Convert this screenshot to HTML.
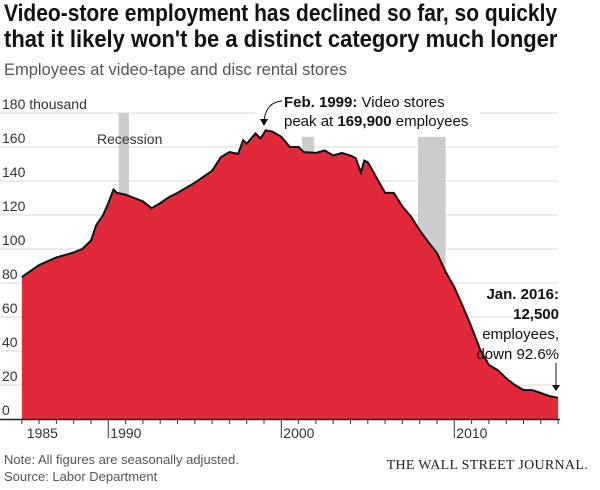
<!DOCTYPE html>
<html><head><meta charset="utf-8"><style>
body{margin:0;width:600px;height:490px;background:#fff;overflow:hidden;font-family:"Liberation Sans",sans-serif}
.t{position:absolute;left:4px;font-weight:bold;font-size:24px;line-height:28px;color:#111;white-space:nowrap;transform-origin:0 0}
</style></head><body>
<div class="t" id="t1" style="top:0px">Video-store employment has declined so far, so quickly</div>
<div class="t" id="t2" style="top:26px">that it likely won't be a distinct category much longer</div>
<div style="position:absolute;left:4px;top:61px;font-size:16.5px;color:#555;white-space:nowrap">Employees at video-tape and disc rental stores</div>
<svg id="c" width="600" height="490" style="position:absolute;left:0;top:0"></svg>
<div style="position:absolute;left:4px;top:451px;font-size:13px;line-height:17px;color:#555">Note: All figures are seasonally adjusted.<br>Source: Labor Department</div>
<div style="position:absolute;right:12px;top:458px;font-family:'Liberation Serif',serif;font-size:14px;color:#222;letter-spacing:0.3px">THE WALL STREET JOURNAL.</div>
<script>
[['t1',553],['t2',553]].forEach(([id,w])=>{const e=document.getElementById(id);e.style.transform='scaleX('+(w/e.offsetWidth)+')';});
const years=[1985,1986,1987,1988,1988.5,1989,1989.3,1989.7,1990,1990.3,1990.5,1991,1991.5,1992,1992.5,1993,1993.5,1994,1995,1996,1996.5,1997,1997.5,1997.8,1998,1998.5,1998.8,1999.1,1999.5,2000,2000.5,2001,2001.3,2002,2002.5,2003,2003.5,2004,2004.3,2004.6,2004.8,2005,2005.5,2006,2006.5,2007,2007.5,2008,2008.5,2009,2009.5,2010,2010.5,2011,2011.5,2012,2012.5,2013,2013.5,2014,2014.5,2015,2015.5,2016];
const employees=[83.5,90.6,95,98,100,105,114,120,127,135,133,132,130,128,124,127,130.5,133,139,146,154,157,156,164,162,168,165,169.9,169,166,160,160,157,156.5,158,155,156.5,155,153.5,145,152,151,142,133,133,125,119,111,104,97.6,86.5,77.6,66,54,40.6,31.8,28.8,24,20,17,17,15.3,13.5,12.5];
const yTicks=[0,20,40,60,80,100,120,140,160,180];
const xLabels=[1985,1990,2000,2010];
const recessions=[[1990.6,1991.2,180],[2001.2,2001.9,166],[2007.9,2009.5,166]];
const svg=document.getElementById('c'),NS='http://www.w3.org/2000/svg';
const x=v=>108.3+(v-1990)*17.3, y=v=>419-v*1.7;
function mk(t,a,p){const e=document.createElementNS(NS,t);for(const k in a)e.setAttribute(k,a[k]);(p||svg).appendChild(e);return e;}
yTicks.forEach(v=>{
 if(v>0){const g=mk('line',{x1:0,x2:558,y1:y(v),y2:y(v),stroke:'#d8d8d8','stroke-width':1});
 
 }
 const t=mk('text',{x:2,y:y(v)-4,'font-size':14,fill:'#333'});t.textContent=v==180?'180 thousand':v;
 
 
});
mk('rect',{x:255,y:104,width:225,height:14,fill:'#fff'});
recessions.forEach((r,i)=>{const e=mk('rect',{x:x(r[0]),y:y(r[2]),width:x(r[1])-x(r[0]),height:419-y(r[2]),fill:'#ccc'});
 
 });
let d='M'+x(years[0])+','+y(0);
years.forEach((yr,i)=>d+='L'+x(yr).toFixed(1)+','+y(employees[i]).toFixed(1));
const area=mk('path',{d:d+'L'+x(years[years.length-1])+','+y(0)+'Z',fill:'#e2293c'});


const line=mk('path',{d:'M'+years.map((yr,i)=>x(yr).toFixed(1)+','+y(employees[i]).toFixed(1)).join('L'),fill:'none',stroke:'#111','stroke-width':2});


mk('line',{x1:0,x2:560,y1:419.5,y2:419.5,stroke:'#222','stroke-width':1.5});
for(let yr=1985;yr<=2016;yr++){const maj=yr%10==0;mk('line',{x1:x(yr),x2:x(yr),y1:419,y2:maj?438:424,stroke:'#333','stroke-width':1});}
xLabels.forEach(v=>{const t=mk('text',{x:v==1985?x(v)+5:x(v)+2,y:438,'font-size':14,fill:'#333'});t.textContent=v;
 
 });
const rec=mk('text',{x:97,y:144,'font-size':14,fill:'#333'});rec.textContent='Recession';


const a1=mk('text',{x:284,y:107,'font-size':15,fill:'#111'});a1.innerHTML='<tspan font-weight="bold">Feb. 1999:</tspan> Video stores';


const a2=mk('text',{x:284,y:126,'font-size':15,fill:'#111'});a2.innerHTML='peak at <tspan font-weight="bold">169,900</tspan> employees';
mk('path',{d:'M282,101 Q266,102 264,121',fill:'none',stroke:'#111','stroke-width':1});
mk('path',{d:'M260,119 L264,126 L268,119Z',fill:'#111'});
[['Jan. 2016:',299,true],['12,500',319,true],['employees,',339,false],['down 92.6%',359,false]].forEach((r,i)=>{
 const t=mk('text',{x:559,y:r[1],'font-size':15,'text-anchor':'end',fill:'#111','font-weight':r[2]?'bold':'normal'});t.textContent=r[0];
 
 });
mk('line',{x1:556,x2:556,y1:363,y2:386,stroke:'#111','stroke-width':1});
mk('path',{d:'M552,385 L556,391 L560,385Z',fill:'#111'});
</script>
</body></html>
